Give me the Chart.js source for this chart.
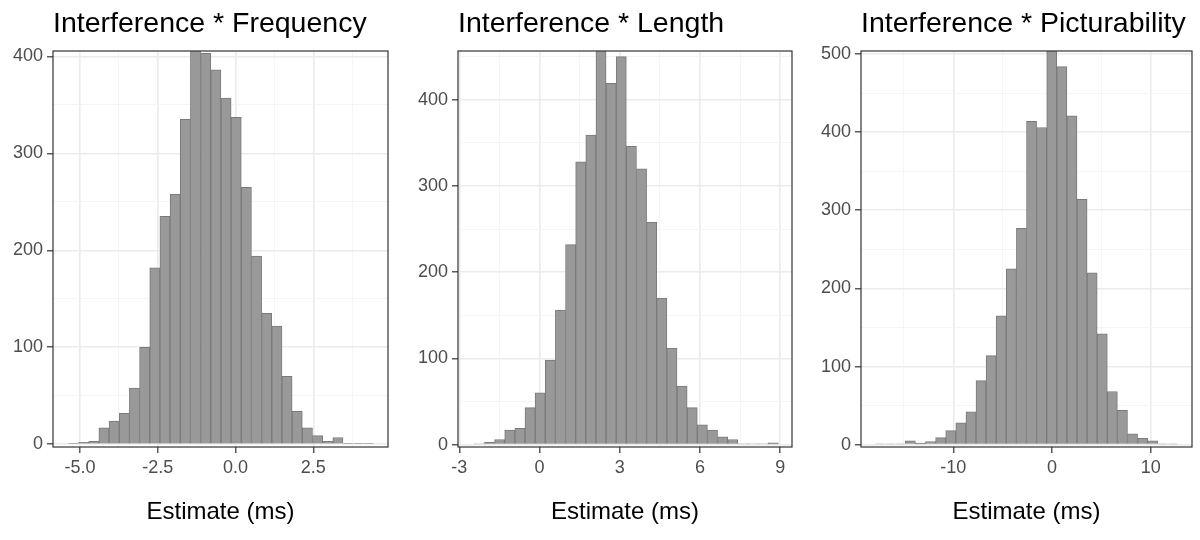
<!DOCTYPE html>
<html>
<head>
<meta charset="utf-8">
<script src="https://cdn.jsdelivr.net/npm/chart.js@4/dist/chart.umd.min.js"></script>
<style>
  body { margin: 0; background: #fff; width: 1200px; height: 540px; position: relative; overflow: hidden; }
  .panel { position: absolute; top: 0; width: 400px; height: 540px; }
</style>
</head>
<body>
<div class="panel" style="left:0px"><canvas id="freq"></canvas></div>
<div class="panel" style="left:400px"><canvas id="len"></canvas></div>
<div class="panel" style="left:800px"><canvas id="pic"></canvas></div>
<script>
// counts per bin (30 bins each)
const freqCounts = [1, 2, 3, 17, 24, 32, 58, 100, 182, 235, 258, 335, 406, 403, 386, 357, 337, 265, 194, 135, 122, 70, 34, 17, 9, 3, 7, 1, 1, 1]
const lenCounts = [1, 3, 6, 17, 19, 43, 60, 98, 156, 232, 328, 359, 460, 419, 450, 346, 320, 258, 170, 112, 68, 43, 23, 17, 9, 6, 1, 1, 1, 2]
const picCounts = [1, 1, 1, 5, 2, 4, 9, 18, 28, 42, 82, 114, 165, 225, 277, 414, 406, 510, 484, 421, 314, 220, 142, 68, 44, 14, 8, 5, 1, 1]

// bin layout (left edge of first bin, bin width)
const freqBins = [-5.376, 0.327]
const lenBins = [-2.44, 0.379]
const picBins = [-17.93, 1.023]

// titles
const titles = ['Interference * Frequency', 'Interference * Length', 'Interference * Picturability']
const xTitle = 'Estimate (ms)'

// tick values / labels
const freqXTicks = [-5, -2.5, 0, 2.5]
const freqXLabels = ['-5.0', '-2.5', '0.0', '2.5']
const freqXMinor = [-3.75, -1.25, 1.25, 3.75]
const lenXTicks = [-3, 0, 3, 6, 9]
const lenXLabels = ['-3', '0', '3', '6', '9']
const lenXMinor = [-1.5, 1.5, 4.5, 7.5]
const picXTicks = [-10, 0, 10]
const picXLabels = ['-10', '0', '10']
const picXMinor = [-15, -5, 5]

const freqYTicks = [0, 100, 200, 300, 400]
const freqYMinor = [50, 150, 250, 350]
const lenYTicks = [0, 100, 200, 300, 400]
const lenYMinor = [50, 150, 250, 350, 450]
const picYTicks = [0, 100, 200, 300, 400, 500]
const picYMinor = [50, 150, 250, 350, 450]

const panelBorder = {
    id: 'panelBorder',
    afterDatasetsDraw(chart) {
        const { ctx, chartArea: a } = chart
        ctx.save()
        ctx.strokeStyle = '#333333'
        ctx.lineWidth = 1.2
        ctx.strokeRect(a.left, a.top, a.right - a.left, a.bottom - a.top)
        ctx.restore()
    }
}

const axisOpts = (major, labels, minor, lo, hi, fit) => ({
    type: 'linear',
    min: lo,
    max: hi,
    offset: false,
    border: { display: false },
    afterBuildTicks: s => {
        s.ticks = major.concat(minor).sort((a, b) => a - b).map(v => ({ value: v }))
    },
    afterFit: fit,
    grid: {
        offset: false,
        color: c => major.includes(c.tick.value) ? '#ebebeb' : '#f3f3f3',
        lineWidth: c => major.includes(c.tick.value) ? 1.6 : 0.8,
        tickColor: c => major.includes(c.tick.value) ? '#333333' : 'rgba(0,0,0,0)',
        tickLength: 6,
        tickWidth: 1.2
    },
    ticks: {
        autoSkip: false,
        maxRotation: 0,
        padding: 4,
        color: '#4d4d4d',
        font: { family: 'Liberation Sans', size: 18 },
        callback: v => {
            const i = major.indexOf(v)
            return i >= 0 ? labels[i] : ''
        }
    }
})

const histogram = (id, idx, counts, bins, xt, xl, xm, xr, yt, ym, yr, yWidth, padRight) => {
    const points = counts.map((c, i) => ({ x: bins[0] + bins[1] * (i + 0.5), y: c }))
    new Chart(id, {
        type: 'bar',
        data: {
            datasets: [{
                data: points,
                backgroundColor: '#999999',
                borderColor: '#7a7a7a',
                borderWidth: 1,
                barPercentage: 1,
                categoryPercentage: 1
            }]
        },
        options: {
            responsive: true,
            maintainAspectRatio: false,
            animation: false,
            layout: { padding: { left: 0, right: padRight, top: 0, bottom: 0 } },
            plugins: {
                legend: { display: false },
                tooltip: { enabled: false },
                title: {
                    display: true,
                    text: titles[idx],
                    align: 'start',
                    fullSize: false,
                    color: '#000000',
                    font: { family: 'Liberation Sans', size: 28.5, weight: 'normal' },
                    padding: { top: 6.6, bottom: 10.2 }
                }
            },
            scales: {
                x: Object.assign(axisOpts(xt, xl, xm, xr[0], xr[1], s => { s.height = 93 }), {
                    title: {
                        display: true,
                        text: xTitle,
                        color: '#000000',
                        font: { family: 'Liberation Sans', size: 24 },
                        padding: { top: 0, bottom: 13.6 }
                    }
                }),
                y: axisOpts(yt, yt.map(String), ym, yr[0], yr[1], s => { s.width = yWidth })
            }
        },
        plugins: [panelBorder]
    })
}

histogram('freq', 0, freqCounts, freqBins, freqXTicks, freqXLabels, freqXMinor, [-5.87, 4.90], freqYTicks, freqYMinor, [-2.8, 405.5], 53, 12)
histogram('len', 1, lenCounts, lenBins, lenXTicks, lenXLabels, lenXMinor, [-3.05, 9.44], lenYTicks, lenYMinor, [-2.7, 456.6], 58, 8)
histogram('pic', 2, picCounts, picBins, picXTicks, picXLabels, picXMinor, [-19.35, 14.18], picYTicks, picYMinor, [-3, 503.9], 61, 8)
</script>
</body>
</html>
